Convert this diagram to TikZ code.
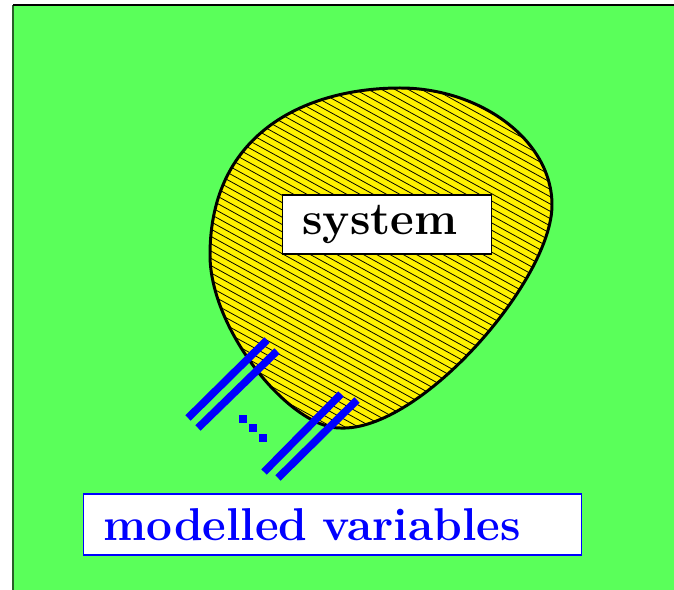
\documentclass[tikz,border=0pt]{standalone}
\definecolor{bggreen}{RGB}{90,255,90}
\definecolor{edgegreen}{RGB}{40,95,40}

\begin{document}
\begin{tikzpicture}[
    x=0.02cm, y=-0.02cm,
    labelbox/.style={draw, fill=white, line width=0.8pt, inner xsep=0.4cm, inner ysep=0pt,
        align=left, font=\fontsize{26.2}{30}\selectfont\bfseries},
    bar/.style={blue, line width=4.3pt},
    dotsq/.style={rectangle, fill=blue, inner sep=0pt, minimum size=0.16cm}
]
    \useasboundingbox (0,0) rectangle (674,590);
    \fill[bggreen] (13,5) rectangle (674,590);
    \draw[edgegreen, line width=1.2pt] (13,590) -- (13,5);
    \draw[line width=1pt] (13,5) -- (674,5);

    % the system
    \def\blob{(400,88) .. controls (480,88) and (552,140) .. (552,205)
        .. controls (552,280) and (420,432) .. (340,428)
        .. controls (290,428) and (210,330) .. (210,255)
        .. controls (210,130) and (310,88) .. cycle}
    \fill[yellow] \blob;
    \begin{scope}
        \clip \blob;
        \foreach \k in {0,...,76}
            \draw[line width=0.45pt] (200,{110-230+7.3*\k}) -- (560,{308-230+7.3*\k});
    \end{scope}
    \draw[line width=1.7pt] \blob;

    \node[labelbox, text width=3.38cm, minimum height=1.18cm] (sys) at (387,224.5) {system};

    % variables
    \draw[bar] (188,418) -- (267,340);
    \draw[bar] (198,428) -- (277,351);
    \draw[bar] (264,472) -- (341,394);
    \draw[bar] (278,478) -- (357,400);

    \node[dotsq] (d1) at (243,419) {};
    \node[dotsq] (d2) at (253,428) {};
    \node[dotsq] (d3) at (263,438) {};

    \node[labelbox, draw=blue, text=blue, text width=9.16cm, minimum height=1.22cm] (vars) at (332.5,524.5) {modelled variables};
\end{tikzpicture}
\end{document}
